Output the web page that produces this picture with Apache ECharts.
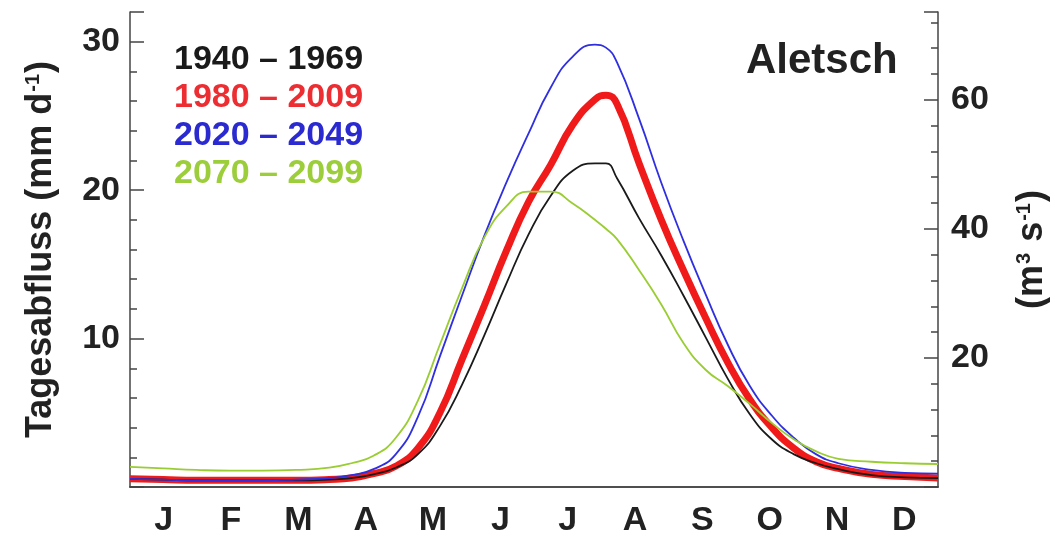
<!DOCTYPE html>
<html>
<head>
<meta charset="utf-8">
<script src="https://cdn.jsdelivr.net/npm/echarts@6/dist/echarts.min.js"></script>
<style>
html,body{margin:0;padding:0;background:#fff;}
#chart{width:1055px;height:540px;}
</style>
</head>
<body>
<div id="chart"></div>
<script>
// Month tick labels
const months = ['J','F','M','A','M','J','J','A','S','O','N','D'];
// Day of year for each sample
const days = [0,15,30,45,60,75,90,100,110,120,130,140,150,160,170,180,190,200,210,215,220,230,240,250,260,270,280,290,300,310,320,335,350,365];
// Daily runoff (mm d-1)
const p1940 = [0.55,0.5,0.45,0.45,0.45,0.45,0.5,0.6,0.85,1.3,2.2,4.1,6.9,10.2,13.7,17.0,19.6,21.3,21.8,21.8,20.8,18.1,15.6,12.9,10.1,7.3,4.9,3.2,2.2,1.6,1.2,0.8,0.65,0.6];
const p1980 = [0.55,0.5,0.45,0.45,0.45,0.45,0.5,0.6,0.9,1.4,2.6,5.0,8.6,12.2,15.9,19.2,21.7,24.4,26.1,26.4,25.8,21.8,18.0,14.6,11.4,8.4,5.9,4.0,2.6,1.7,1.25,0.85,0.7,0.6];
const p2020 = [0.55,0.5,0.45,0.45,0.45,0.5,0.6,0.8,1.2,2.2,4.7,8.8,12.9,16.9,20.5,23.8,26.9,29.0,29.8,29.6,28.6,24.8,20.5,16.6,13.0,9.6,6.8,4.8,3.3,2.2,1.6,1.15,0.95,0.9];
const p2070 = [1.35,1.25,1.15,1.1,1.1,1.15,1.3,1.6,2.1,3.3,5.8,9.6,13.4,16.8,18.9,19.9,19.9,19.1,18.0,17.4,16.7,14.6,12.3,9.7,7.9,6.8,5.6,4.3,3.2,2.4,1.9,1.7,1.6,1.55];
const periods = ['1940 – 1969','1980 – 2009','2020 – 2049','2070 – 2099'];

const pairs = v => days.map((d,i)=>[d, v[i]]);
const FONT = '"Liberation Sans", Arial, sans-serif';
const axisCol = '#444';
const lblStyle = {fontFamily: FONT, fontWeight: 'bold', fontSize: 34, color: '#222'};
const supRich = {
  a: {fontFamily: FONT, fontWeight: 'bold', fontSize: 36, color: '#222'},
  s: {fontFamily: FONT, fontWeight: 'bold', fontSize: 20, color: '#222', verticalAlign: 'top', padding: [0,1,15,1]}
};

const chart = echarts.init(document.getElementById('chart'), null, {renderer: 'canvas'});
chart.setOption({
  animation: false,
  backgroundColor: '#fff',
  title: {
    text: 'Aletsch', left: 746, top: 40, padding: 0,
    textStyle: {fontFamily: FONT, fontWeight: 'bold', fontSize: 42, color: '#222'}
  },
  legend: {
    orient: 'vertical', left: 168, top: 43, padding: 0,
    itemWidth: 0, itemHeight: 0, itemGap: 4, selectedMode: false,
    textStyle: {fontFamily: FONT, fontWeight: 'bold', fontSize: 34, lineHeight: 34},
    data: [
      {name: periods[0], textStyle: {color: '#1a1a1a'}},
      {name: periods[1], textStyle: {color: '#ec2e33'}},
      {name: periods[2], textStyle: {color: '#2a2ad0'}},
      {name: periods[3], textStyle: {color: '#9ccd3a'}}
    ]
  },
  grid: {left: 130, right: 117, top: 12, bottom: 53, containLabel: false, outerBoundsMode: 'none'},
  xAxis: [
    {type: 'category', data: months, position: 'bottom', boundaryGap: true,
     axisLine: {lineStyle: {color: axisCol, width: 1.5}},
     axisTick: {inside: true, length: 10, lineStyle: {color: axisCol, width: 1.5}},
     axisLabel: Object.assign({margin: 17, interval: 0}, lblStyle),
     splitLine: {show: false}},
    {type: 'category', data: months, position: 'top', boundaryGap: true,
     axisLine: {lineStyle: {color: axisCol, width: 1.5}},
     axisTick: {inside: true, length: 10, lineStyle: {color: axisCol, width: 1.5}},
     axisLabel: {show: false}, splitLine: {show: false}},
    {type: 'value', min: 0, max: 365, show: false}
  ],
  yAxis: [
    {type: 'value', position: 'left', min: 0, max: 32, interval: 10,
     name: '{a|Tagesabfluss (mm d}{s|-1}{a|)}', nameLocation: 'middle', nameGap: 71, nameRotate: 90,
     nameTextStyle: {rich: supRich},
     axisLine: {show: true, lineStyle: {color: axisCol, width: 1.5}},
     axisTick: {show: true, inside: true, length: 14, lineStyle: {color: axisCol, width: 1.5}},
     minorTick: {show: true, splitNumber: 5, length: 7, lineStyle: {color: axisCol, width: 1.5}},
     axisLabel: Object.assign({margin: 10, showMinLabel: false, showMaxLabel: false}, lblStyle),
     splitLine: {show: false}},
    {type: 'value', position: 'right', min: 0, max: 73.6, interval: 20,
     name: '{a|(m}{s|3}{a| s}{s|-1}{a|)}', nameLocation: 'middle', nameGap: 76, nameRotate: 90,
     nameTextStyle: {rich: supRich},
     axisLine: {show: true, lineStyle: {color: axisCol, width: 1.5}},
     axisTick: {show: true, inside: true, length: 14, lineStyle: {color: axisCol, width: 1.5}},
     minorTick: {show: true, splitNumber: 5, length: 7, lineStyle: {color: axisCol, width: 1.5}},
     axisLabel: Object.assign({margin: 13, showMinLabel: false, showMaxLabel: false}, lblStyle),
     splitLine: {show: false}}
  ],
  series: [
    {name: periods[1], type: 'line', xAxisIndex: 2, yAxisIndex: 0, data: pairs(p1980), smooth: 0.5,
     showSymbol: false, lineStyle: {color: '#f01a1a', width: 7}, itemStyle: {color: '#ec2e33'}},
    {name: periods[0], type: 'line', xAxisIndex: 2, yAxisIndex: 0, data: pairs(p1940), smooth: 0.5,
     showSymbol: false, lineStyle: {color: '#1a1a1a', width: 1.8}, itemStyle: {color: '#1a1a1a'}},
    {name: periods[2], type: 'line', xAxisIndex: 2, yAxisIndex: 0, data: pairs(p2020), smooth: 0.5,
     showSymbol: false, lineStyle: {color: '#2f2fe0', width: 1.8}, itemStyle: {color: '#2a2ad0'}},
    {name: periods[3], type: 'line', xAxisIndex: 2, yAxisIndex: 0, data: pairs(p2070), smooth: 0.5,
     showSymbol: false, lineStyle: {color: '#9acd32', width: 1.8}, itemStyle: {color: '#9ccd3a'}}
  ]
});
</script>
</body>
</html>
